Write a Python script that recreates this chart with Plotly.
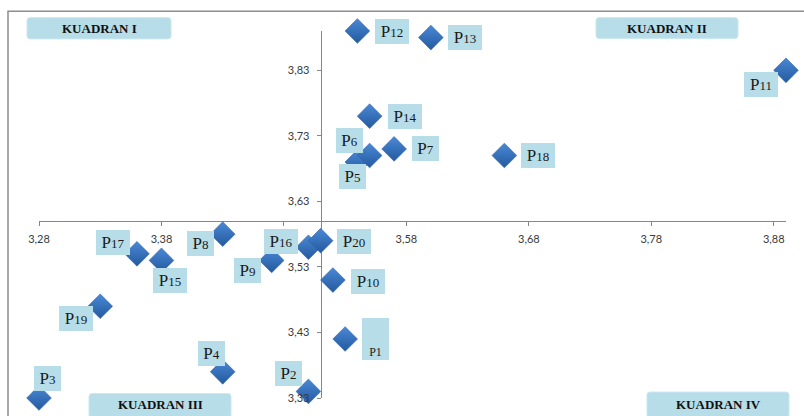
import plotly.graph_objects as go

# Importance-performance points (P1..P20)
labels = [f"P{i}" for i in range(1, 21)]
x_vals = [3.53, 3.50, 3.28, 3.43, 3.54, 3.55, 3.57, 3.43, 3.47, 3.52,
          3.89, 3.54, 3.60, 3.55, 3.38, 3.50, 3.36, 3.66, 3.33, 3.51]
y_vals = [3.42, 3.34, 3.33, 3.37, 3.69, 3.70, 3.71, 3.58, 3.54, 3.51,
          3.83, 3.89, 3.88, 3.76, 3.54, 3.56, 3.55, 3.70, 3.47, 3.57]

# Axis crossing values (means) and ranges
x_range = [3.28, 3.89]
y_range = [3.33, 3.89]
x_cross = 3.51
y_cross = 3.60

quadrants = ["KUADRAN I", "KUADRAN II", "KUADRAN III", "KUADRAN IV"]

# Label box placement relative to each marker (pixels: dx right, dy down)
label_offsets = {
    "P1": (30, 0), "P2": (-20, -18), "P3": (8, -20), "P4": (-11, -18),
    "P5": (-5, 14), "P6": (-20, -15), "P7": (31, 0), "P8": (-22, 9),
    "P9": (-24, 10), "P10": (35, 1), "P11": (-25, 14), "P12": (35, 0),
    "P13": (34, 0), "P14": (35, 0), "P15": (9, 20), "P16": (-27, -6),
    "P17": (-24, -11), "P18": (34, 0), "P19": (-24, 12), "P20": (33, 1),
}

W_PX, H_PX = 804, 416
L, R, T, B = 39, 18, 31, 14
PW, PH = W_PX - L - R, H_PX - T - B


def px(xp):
    return (xp - L) / PW


def py(yp):
    return (T + PH - yp) / PH


def rounded_rect(x0, y0, x1, y1, r=3):
    rx, ry = r / PW, r / PH
    a0, a1 = px(x0), px(x1)
    b0, b1 = py(y1), py(y0)  # bottom, top in paper units
    return (f"M{a0+rx},{b1} L{a1-rx},{b1} Q{a1},{b1} {a1},{b1-ry} "
            f"L{a1},{b0+ry} Q{a1},{b0} {a1-rx},{b0} L{a0+rx},{b0} "
            f"Q{a0},{b0} {a0},{b0+ry} L{a0},{b1-ry} Q{a0},{b1} {a0+rx},{b1} Z")


BOX_BLUE = "#b7dde8"
LABEL_FONT = "Liberation Serif"
TICK_FONT = dict(family="Lato", size=11, color="#3a3a3a")
AXIS_GRAY = "#868686"

x_pos = (y_cross - y_range[0]) / (y_range[1] - y_range[0])
y_pos = (x_cross - x_range[0]) / (x_range[1] - x_range[0])

fig = go.Figure()

fig.add_trace(go.Scatter(
    x=x_vals, y=y_vals, mode="markers", text=labels,
    cliponaxis=False,
    marker=dict(symbol="diamond", size=19, color="#4a88d6",
                gradient=dict(type="vertical", color="#245a9e"),
                line=dict(width=0.6, color="#2f64a8")),
    hoverinfo="text", showlegend=False,
))
# empty trace so the overlaid label axes are rendered
fig.add_trace(go.Scatter(x=[], y=[], xaxis="x2", yaxis="y2",
                         showlegend=False, hoverinfo="skip"))

annotations = []
for name, xv, yv in zip(labels, x_vals, y_vals):
    dx, dy = label_offsets[name]
    digits = name[1:]
    if name == "P1":
        annotations.append(dict(
            x=xv, y=yv, xref="x", yref="y", xshift=dx, yshift=-dy,
            text="P1", showarrow=False, width=25, height=40,
            valign="bottom", bgcolor=BOX_BLUE, borderpad=1, borderwidth=0,
            font=dict(family=LABEL_FONT, size=12, color="#1a1a1a"),
        ))
        continue
    width = 27 if len(digits) == 1 else 34
    annotations.append(dict(
        x=xv, y=yv, xref="x", yref="y", xshift=dx, yshift=-dy,
        text=f"P<span style='font-size:13px'>{digits}</span>",
        showarrow=False, width=width, height=25,
        bgcolor=BOX_BLUE, borderpad=0, borderwidth=0,
        font=dict(family=LABEL_FONT, size=17, color="#1a1a1a"),
    ))

# Quadrant captions (pixel boxes)
quad_boxes = [(27, 17.5, 171, 39), (596, 17.5, 738, 38.5),
              (89, 397.5, 231, 422), (647, 396, 789, 422)]
shapes = [dict(type="rect", xref="paper", yref="paper",
               x0=px(8), x1=px(806), y0=py(422), y1=py(11),
               line=dict(color="#8c8c8c", width=1.5), layer="below")]
for title, (x0, y0, x1, y1) in zip(quadrants, quad_boxes):
    shapes.append(dict(type="path", xref="paper", yref="paper",
                       path=rounded_rect(x0, y0, x1, y1),
                       fillcolor=BOX_BLUE, line=dict(color="#c9e7ef", width=1),
                       layer="below"))
    ty = (y0 + y1) / 2 if y1 < 100 else 409
    annotations.append(dict(
        x=px((x0 + x1) / 2), y=py(ty), xref="paper", yref="paper",
        text=f"<b>{title}</b>", showarrow=False,
        xanchor="center", yanchor="middle",
        font=dict(family=LABEL_FONT, size=13, color="#111111"),
    ))

common_x = dict(range=x_range, tick0=3.28, dtick=0.1, tickformat=".2f",
                showgrid=False, zeroline=False, anchor="free",
                position=x_pos, fixedrange=True)
common_y = dict(range=y_range, tick0=3.33, dtick=0.1, tickformat=".2f",
                showgrid=False, zeroline=False, anchor="free",
                position=y_pos, fixedrange=True)

fig.update_layout(
    width=W_PX, height=H_PX,
    margin=dict(l=L, r=R, t=T, b=B),
    paper_bgcolor="white", plot_bgcolor="white",
    separators=",.",
    shapes=shapes, annotations=annotations,
    # axis lines and tick marks sit beneath the markers
    xaxis=dict(**common_x, showline=True, linecolor=AXIS_GRAY, linewidth=1,
               ticks="outside", ticklen=4, tickcolor=AXIS_GRAY,
               showticklabels=False, layer="below traces"),
    yaxis=dict(**common_y, showline=True, linecolor=AXIS_GRAY, linewidth=1,
               ticks="outside", ticklen=4, tickcolor=AXIS_GRAY,
               showticklabels=False, layer="below traces"),
    # tick labels are drawn on top of the markers
    xaxis2=dict(**common_x, overlaying="x", showline=False, ticks="outside",
                ticklen=4, tickcolor="rgba(0,0,0,0)", showticklabels=True,
                ticklabelstandoff=4, tickfont=TICK_FONT,
                layer="above traces"),
    yaxis2=dict(**common_y, overlaying="y", showline=False, ticks="outside",
                ticklen=4, tickcolor="rgba(0,0,0,0)", showticklabels=True,
                ticklabelstandoff=5, tickfont=TICK_FONT,
                layer="above traces"),
)

fig.write_html("out.html")
